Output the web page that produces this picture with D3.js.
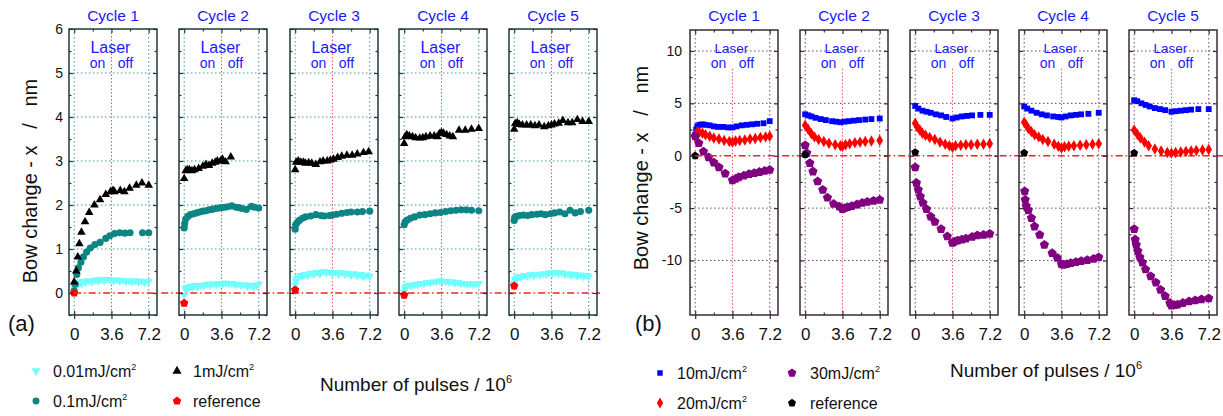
<!DOCTYPE html>
<html>
<head>
<meta charset="UTF-8">
<title>Bow change vs pulses</title>
<script src="https://d3js.org/d3.v7.min.js"></script>
<style>
  body { margin: 0; background: #fff; }
  svg { display: block; font-family: "Liberation Sans", Arial, sans-serif; }
  text { white-space: pre; }
</style>
</head>
<body>
<svg width="1223" height="416"></svg>
<script>
// ---- data (x in 10^6 pulses, y in nm), one array per cycle ----
const cycles = ["Cycle 1", "Cycle 2", "Cycle 3", "Cycle 4", "Cycle 5"];
const xTicks = [0, 3.6, 7.2];
const xTickLabels = ["0", "3.6", "7.2"];
const xMinor = [1.8, 5.4];
const yTicksA = [0, 1, 2, 3, 4, 5, 6];
const yTicksB = [-10, -5, 0, 5, 10];

// panel (a)
const a001 = [
  [[0,0.12],[0.1,0.18],[0.2,0.22],[0.35,0.2],[0.5,0.25],[0.7,0.22],[0.9,0.27],[1.1,0.24],[1.4,0.28],[1.7,0.25],[2.0,0.3],[2.3,0.27],[2.6,0.31],[2.9,0.28],[3.2,0.31],[3.5,0.3],[3.8,0.28],[4.1,0.3],[4.4,0.27],[4.7,0.29],[5.0,0.26],[5.3,0.28],[5.6,0.25],[5.9,0.28],[6.2,0.25],[6.5,0.27],[6.8,0.24],[7.2,0.27]],
  [[0,-0.05],[0.1,0.1],[0.25,0.13],[0.4,0.11],[0.6,0.15],[0.8,0.13],[1.0,0.17],[1.3,0.14],[1.6,0.18],[1.9,0.16],[2.2,0.2],[2.5,0.18],[2.8,0.21],[3.1,0.19],[3.4,0.22],[3.7,0.2],[4.0,0.23],[4.3,0.21],[4.6,0.22],[4.9,0.19],[5.2,0.2],[5.5,0.17],[5.8,0.19],[6.1,0.15],[6.4,0.18],[6.7,0.14],[7.0,0.17],[7.2,0.2]],
  [[0,0.18],[0.05,0.28],[0.15,0.33],[0.3,0.36],[0.5,0.4],[0.7,0.38],[0.9,0.43],[1.2,0.4],[1.5,0.45],[1.8,0.42],[2.1,0.47],[2.4,0.44],[2.7,0.49],[3.0,0.46],[3.3,0.48],[3.6,0.44],[3.9,0.47],[4.2,0.43],[4.5,0.46],[4.8,0.42],[5.1,0.45],[5.4,0.4],[5.7,0.44],[6.0,0.39],[6.3,0.42],[6.6,0.37],[6.9,0.41],[7.2,0.38]],
  [[0,0.02],[0.05,0.1],[0.15,0.14],[0.3,0.16],[0.5,0.18],[0.7,0.17],[1.0,0.2],[1.3,0.19],[1.6,0.22],[1.9,0.21],[2.2,0.24],[2.5,0.23],[2.8,0.26],[3.1,0.25],[3.4,0.28],[3.7,0.26],[4.0,0.27],[4.3,0.25],[4.6,0.26],[4.9,0.23],[5.2,0.24],[5.5,0.21],[5.8,0.22],[6.1,0.2],[6.4,0.21],[6.7,0.19],[7.0,0.21],[7.2,0.22]],
  [[0,0.22],[0.05,0.3],[0.15,0.33],[0.3,0.35],[0.5,0.38],[0.7,0.36],[1.0,0.4],[1.3,0.38],[1.6,0.42],[1.9,0.4],[2.2,0.43],[2.5,0.41],[2.8,0.44],[3.1,0.42],[3.4,0.46],[3.7,0.44],[4.0,0.47],[4.3,0.44],[4.6,0.46],[4.9,0.42],[5.2,0.44],[5.5,0.4],[5.8,0.43],[6.1,0.39],[6.4,0.41],[6.7,0.37],[7.0,0.4],[7.2,0.38]]
];
const a01 = [
  [[0,0.05],[0.1,0.2],[0.25,0.42],[0.4,0.57],[0.65,0.7],[0.9,0.82],[1.2,0.93],[1.55,1.02],[2.0,1.1],[2.5,1.15],[3.05,1.24],[3.45,1.3],[3.9,1.35],[4.4,1.37],[4.9,1.36],[5.4,1.37],[6.6,1.37],[7.2,1.37]],
  [[0,1.48],[0.05,1.58],[0.15,1.68],[0.35,1.74],[0.6,1.78],[0.9,1.8],[1.2,1.82],[1.5,1.84],[1.8,1.86],[2.1,1.87],[2.4,1.89],[2.7,1.9],[3.0,1.92],[3.3,1.93],[3.6,1.94],[3.9,1.95],[4.2,1.96],[4.6,1.98],[5.0,1.95],[5.3,1.94],[5.6,1.92],[6.0,1.9],[6.5,1.97],[6.8,1.95],[7.2,1.93]],
  [[0,1.45],[0.05,1.55],[0.2,1.6],[0.4,1.65],[0.7,1.7],[1.0,1.73],[1.5,1.75],[2.0,1.78],[2.5,1.76],[2.8,1.75],[3.3,1.76],[3.6,1.77],[4.0,1.79],[4.5,1.81],[5.0,1.83],[5.4,1.84],[6.0,1.84],[6.5,1.85],[7.2,1.86]],
  [[0,1.55],[0.1,1.62],[0.3,1.66],[0.6,1.7],[1.0,1.73],[1.5,1.77],[2.0,1.78],[2.5,1.8],[3.0,1.82],[3.5,1.83],[4.0,1.85],[4.5,1.87],[5.0,1.88],[5.5,1.89],[6.0,1.89],[6.5,1.88],[7.2,1.87]],
  [[0,1.65],[0.05,1.72],[0.2,1.74],[0.5,1.76],[0.9,1.77],[1.3,1.76],[1.7,1.78],[2.2,1.79],[2.6,1.8],[3.0,1.78],[3.5,1.8],[3.9,1.82],[4.4,1.84],[4.9,1.8],[5.4,1.88],[5.9,1.82],[6.4,1.85],[7.2,1.88]]
];
const a1 = [
  [[0,0.25],[0.2,0.5],[0.35,0.82],[0.5,1.12],[0.7,1.38],[1.05,1.62],[1.45,1.83],[1.95,2.0],[2.5,2.12],[3.05,2.24],[3.5,2.3],[3.75,2.33],[3.9,2.3],[4.45,2.33],[4.85,2.3],[5.35,2.38],[6.0,2.45],[6.55,2.5],[7.2,2.45]],
  [[0,2.6],[0.15,2.78],[0.3,2.8],[0.5,2.8],[0.75,2.78],[1.0,2.8],[1.4,2.83],[1.8,2.88],[2.1,2.92],[2.4,2.9],[2.7,2.95],[3.0,2.97],[3.2,3.0],[3.5,3.0],[3.7,3.04],[4.0,2.98],[4.5,3.09]],
  [[0,2.8],[0.1,2.97],[0.3,3.0],[0.55,2.97],[0.8,2.97],[1.0,2.95],[1.3,2.96],[1.6,2.95],[2.0,2.92],[2.4,2.98],[2.7,3.0],[3.1,3.0],[3.4,3.02],[3.7,3.04],[4.1,3.08],[4.5,3.11],[5.0,3.13],[5.5,3.13],[6.0,3.16],[6.6,3.19],[7.1,3.21]],
  [[0,3.4],[0.1,3.55],[0.25,3.6],[0.5,3.57],[0.8,3.55],[1.1,3.53],[1.5,3.52],[1.8,3.53],[2.1,3.55],[2.5,3.57],[2.9,3.57],[3.2,3.55],[3.4,3.62],[3.6,3.65],[3.8,3.63],[4.1,3.6],[4.4,3.57],[4.7,3.55],[5.3,3.7],[5.9,3.7],[6.5,3.72],[7.2,3.74]],
  [[0,3.72],[0.1,3.85],[0.3,3.87],[0.5,3.83],[0.8,3.82],[1.2,3.82],[1.6,3.82],[2.0,3.8],[2.4,3.82],[2.9,3.78],[3.3,3.8],[3.6,3.82],[3.9,3.84],[4.3,3.86],[4.7,3.92],[5.2,3.87],[5.6,3.87],[6.1,3.94],[6.6,3.9],[7.2,3.9]]
];
const aRef = [0.0, -0.23, 0.07, -0.05, 0.16];

// panel (b)
const b10 = [
  [[0,2.0],[0.1,2.5],[0.2,2.8],[0.4,2.95],[0.7,3.0],[1.0,2.95],[1.4,2.9],[1.8,2.8],[2.2,2.75],[2.7,2.75],[3.2,2.7],[3.6,2.7],[4.0,2.8],[4.5,2.9],[5.0,2.95],[5.5,3.0],[6.0,3.05],[6.6,3.1],[7.2,3.3]],
  [[0,3.95],[0.3,3.85],[0.6,3.75],[1.0,3.62],[1.5,3.5],[2.0,3.4],[2.6,3.3],[3.0,3.25],[3.4,3.2],[3.8,3.25],[4.2,3.3],[4.7,3.35],[5.2,3.4],[5.8,3.45],[6.4,3.5],[7.2,3.55]],
  [[0,4.75],[0.3,4.5],[0.7,4.3],[1.1,4.2],[1.5,4.1],[2.0,3.95],[2.5,3.85],[3.0,3.7],[3.6,3.55],[4.0,3.65],[4.5,3.75],[5.0,3.8],[5.5,3.85],[6.3,3.9],[7.2,3.9]],
  [[0,4.7],[0.3,4.5],[0.7,4.3],[1.2,4.1],[1.7,3.95],[2.2,3.85],[2.8,3.75],[3.3,3.7],[3.6,3.65],[4.0,3.75],[4.5,3.85],[5.0,3.9],[5.5,3.95],[6.2,4.0],[7.2,4.1]],
  [[0,5.3],[0.3,5.2],[0.7,5.0],[1.1,4.85],[1.5,4.7],[2.0,4.55],[2.5,4.45],[3.0,4.35],[3.6,4.2],[4.0,4.25],[4.5,4.3],[5.0,4.35],[5.5,4.4],[6.2,4.45],[7.2,4.45]]
];
const b20 = [
  [[0,1.8],[0.2,2.3],[0.4,2.25],[0.7,2.15],[1.0,2.0],[1.4,1.85],[1.8,1.7],[2.3,1.6],[2.8,1.45],[3.3,1.35],[3.6,1.3],[3.9,1.4],[4.3,1.45],[4.8,1.5],[5.3,1.6],[5.8,1.65],[6.3,1.75],[6.8,1.8],[7.2,1.85]],
  [[0,2.9],[0.3,2.5],[0.6,2.1],[0.9,1.8],[1.3,1.55],[1.8,1.35],[2.3,1.2],[2.9,1.05],[3.4,0.95],[3.6,0.9],[3.9,1.05],[4.3,1.15],[4.8,1.25],[5.3,1.3],[5.8,1.35],[6.4,1.4],[7.2,1.45]],
  [[0,3.1],[0.2,2.75],[0.45,2.45],[0.7,2.15],[1.0,1.95],[1.4,1.75],[1.9,1.55],[2.4,1.3],[2.9,1.1],[3.3,0.95],[3.6,0.8],[3.9,0.95],[4.4,1.0],[4.9,1.05],[5.4,1.05],[6.0,1.1],[6.6,1.1],[7.2,1.15]],
  [[0,3.2],[0.2,2.9],[0.4,2.6],[0.7,2.3],[1.0,2.0],[1.4,1.8],[1.8,1.55],[2.3,1.35],[2.9,1.1],[3.3,0.9],[3.6,0.75],[3.9,0.85],[4.3,0.9],[4.8,0.95],[5.4,1.0],[6.0,1.05],[6.6,1.1],[7.2,1.15]],
  [[0,2.45],[0.3,2.05],[0.6,1.7],[1.0,1.3],[1.4,0.95],[2.0,0.65],[2.6,0.45],[3.2,0.3],[3.6,0.25],[4.0,0.3],[4.5,0.35],[5.0,0.4],[5.5,0.45],[6.0,0.5],[6.6,0.55],[7.2,0.6]]
];
const b30 = [
  [[0,1.85],[0.35,1.2],[0.8,0.4],[1.3,-0.15],[1.8,-0.65],[2.3,-1.1],[2.9,-1.7],[3.6,-2.35],[3.9,-2.2],[4.2,-2.05],[4.7,-1.9],[5.2,-1.75],[5.7,-1.65],[6.2,-1.55],[6.7,-1.45],[7.2,-1.35]],
  [[0,1.0],[0.15,0.25],[0.45,-0.7],[0.75,-1.5],[1.2,-2.45],[1.7,-3.25],[2.15,-4.0],[2.75,-4.6],[3.3,-4.85],[3.6,-5.1],[3.8,-5.0],[4.1,-4.9],[4.5,-4.8],[5.0,-4.65],[5.5,-4.5],[6.0,-4.4],[6.6,-4.3],[7.2,-4.2]],
  [[0,-1.1],[0.12,-2.6],[0.3,-3.25],[0.5,-3.9],[0.75,-4.5],[1.1,-5.1],[1.5,-5.8],[1.9,-6.3],[2.5,-7.0],[3.1,-7.7],[3.6,-8.3],[3.8,-8.2],[4.1,-8.1],[4.5,-8.0],[4.9,-7.9],[5.5,-7.75],[6.0,-7.6],[6.6,-7.55],[7.2,-7.45]],
  [[0.05,-3.4],[0.1,-4.2],[0.2,-4.8],[0.4,-5.2],[0.7,-5.95],[1.0,-6.75],[1.5,-7.55],[1.95,-8.5],[2.7,-9.3],[3.2,-9.75],[3.6,-10.35],[3.8,-10.4],[4.1,-10.35],[4.5,-10.25],[5.0,-10.15],[5.5,-10.05],[6.1,-9.95],[6.7,-9.85],[7.2,-9.7]],
  [[0,-7.0],[0.1,-8.0],[0.2,-8.5],[0.35,-9.1],[0.55,-9.7],[0.8,-10.2],[1.1,-10.85],[1.6,-11.5],[2.1,-12.1],[2.55,-12.8],[3.0,-13.4],[3.45,-14.05],[3.6,-14.3],[3.9,-14.25],[4.2,-14.2],[4.7,-14.05],[5.3,-13.9],[5.9,-13.8],[6.5,-13.7],[7.2,-13.6]]
];
const bRef = [0.0, 0.1, 0.32, 0.26, 0.26];

// ---- drawing ----
const svg = d3.select("svg");
const blue = "#1a1aff";
const ink = "#111";

// regular pentagon symbol (size = area)
const symbolPentagon = {
  draw(ctx, size) {
    const r = Math.sqrt(size / 2.378);
    for (let i = 0; i < 5; i++) {
      const a = -Math.PI / 2 + i * 2 * Math.PI / 5;
      if (i === 0) ctx.moveTo(r * Math.cos(a), r * Math.sin(a));
      else ctx.lineTo(r * Math.cos(a), r * Math.sin(a));
    }
    ctx.closePath();
  }
};

function drawPanel(opt) {
  const top = opt.top, bottom = 315, w = 88;
  const y = d3.scaleLinear().domain(opt.yDomain).range([bottom, top]);

  opt.lefts.forEach((left, i) => {
    const x = d3.scaleLinear().domain([-0.5, 8]).range([left, left + w]);
    const g = svg.append("g");

    // grid
    g.selectAll(".hg").data(opt.grid).enter().append("line")
      .attr("x1", left).attr("x2", left + w)
      .attr("y1", d => y(d)).attr("y2", d => y(d))
      .attr("stroke", opt.gridColor).attr("stroke-width", 1)
      .attr("stroke-dasharray", "1.5,2.5");
    g.selectAll(".vg").data([0, 7.2]).enter().append("line")
      .attr("x1", d => x(d)).attr("x2", d => x(d))
      .attr("y1", top).attr("y2", bottom)
      .attr("stroke", opt.gridColor).attr("stroke-width", 1)
      .attr("stroke-dasharray", "1.5,2.5");
    g.append("line")
      .attr("x1", x(3.6)).attr("x2", x(3.6))
      .attr("y1", y(opt.redTop)).attr("y2", bottom)
      .attr("stroke", "#e85050").attr("stroke-width", 1)
      .attr("stroke-dasharray", "1.5,2");

    // cycle title + laser note
    svg.append("text").attr("x", left + w / 2).attr("y", 21)
      .attr("text-anchor", "middle").attr("fill", blue).attr("font-size", 15.5)
      .text(cycles[i]);
    g.append("text").attr("x", x(3.6) - 1).attr("y", 53)
      .attr("text-anchor", "middle").attr("fill", blue).attr("font-size", opt.laserSize)
      .text("Laser");
    g.append("text").attr("x", x(3.6) - 14).attr("y", 68)
      .attr("text-anchor", "middle").attr("fill", blue).attr("font-size", 14)
      .text("on");
    g.append("text").attr("x", x(3.6) + 14).attr("y", 68)
      .attr("text-anchor", "middle").attr("fill", blue).attr("font-size", 14)
      .text("off");

    opt.zeroLine(i, x, y);

    // series
    opt.series.forEach(s => {
      const sym = d3.symbol().type(s.type).size(s.size);
      g.selectAll(null).data(s.data[i]).enter().append("path")
        .attr("d", sym)
        .attr("transform", d => `translate(${x(d[0])},${y(d[1])})` + (s.flip ? " rotate(180)" : ""))
        .attr("fill", s.color);
    });
    g.append("path")
      .attr("d", d3.symbol().type(symbolPentagon).size(opt.refSize))
      .attr("transform", `translate(${x(0)},${y(opt.ref[i])})`)
      .attr("fill", opt.refColor);

    // frame
    g.append("rect").attr("x", left).attr("y", top).attr("width", w).attr("height", bottom - top)
      .attr("fill", "none").attr("stroke", opt.frameColor).attr("stroke-width", 1.5);

    // ticks: [axis, transform, label font size or 0]
    const xFmt = d => xTickLabels[xTicks.indexOf(d)];
    const axes = [
      [d3.axisLeft(y).tickValues(opt.yTicks).tickFormat(d => String(d)).tickSizeInner(-4).tickSizeOuter(0).tickPadding(opt.yPad), `translate(${left},0)`, i === 0 ? 14 : 0],
      [d3.axisLeft(y).tickValues(opt.yMinor).tickSizeInner(-2.5).tickSizeOuter(0), `translate(${left},0)`, 0],
      [d3.axisRight(y).tickValues(opt.yTicks).tickSizeInner(-4).tickSizeOuter(0), `translate(${left + w},0)`, 0],
      [d3.axisRight(y).tickValues(opt.yMinor).tickSizeInner(-2.5).tickSizeOuter(0), `translate(${left + w},0)`, 0],
      [d3.axisBottom(x).tickValues(xTicks).tickFormat(xFmt).tickSizeInner(4).tickSizeOuter(0).tickPadding(9), `translate(0,${bottom})`, 17],
      [d3.axisBottom(x).tickValues(xTicks).tickSizeInner(-4).tickSizeOuter(0), `translate(0,${bottom})`, 0],
      [d3.axisBottom(x).tickValues(xMinor).tickSizeInner(-2.5).tickSizeOuter(0), `translate(0,${bottom})`, 0],
      [d3.axisTop(x).tickValues(xTicks).tickSizeInner(-4).tickSizeOuter(0), `translate(0,${top})`, 0],
      [d3.axisTop(x).tickValues(xMinor).tickSizeInner(-2.5).tickSizeOuter(0), `translate(0,${top})`, 0]
    ];
    axes.forEach(([ax, tr, fs]) => {
      const a = g.append("g").attr("transform", tr).call(ax);
      a.select(".domain").remove();
      a.selectAll("line").attr("stroke", opt.frameColor).attr("stroke-width", 1.2);
      if (!fs) a.selectAll("text").remove();
      else a.selectAll("text").attr("fill", ink)
        .attr("font-family", "Liberation Sans, Arial, sans-serif").attr("font-size", fs);
    });
  });
}

function zeroLine(x1) {
  return (i, x, y) => {
    if (i !== 0) return;
    svg.append("line").attr("x1", x(0)).attr("x2", x1)
      .attr("y1", y(0)).attr("y2", y(0))
      .attr("stroke", "#ff2020").attr("stroke-width", 1.3)
      .attr("stroke-dasharray", "7,3,1.5,3");
  };
}

drawPanel({
  lefts: [69, 179, 290, 399, 509], top: 29, yDomain: [-0.5, 6],
  yTicks: yTicksA, yMinor: [-0.5, 0.5, 1.5, 2.5, 3.5, 4.5, 5.5], yPad: 6,
  grid: [1, 2, 3, 4, 5], gridColor: "#3f9a9a", frameColor: "#203838",
  redTop: 6, laserSize: 16, zeroLine: zeroLine(600),
  series: [
    { data: a001, type: d3.symbolTriangle, size: 30, color: "#70ffff", flip: true },
    { data: a01, type: d3.symbolCircle, size: 40, color: "#0e8585" },
    { data: a1, type: d3.symbolTriangle, size: 32, color: "#000" }
  ],
  ref: aRef, refColor: "#ff0000", refSize: 46
});

drawPanel({
  lefts: [690, 800, 910, 1019, 1129], top: 30, yDomain: [-15.2, 12],
  yTicks: yTicksB, yMinor: [-12.5, -7.5, -2.5, 2.5, 7.5], yPad: 8,
  grid: [-10, -5, 5, 10], gridColor: "#6a4a6a", frameColor: "#3a2a3a",
  redTop: 8.3, laserSize: 13.5, zeroLine: zeroLine(1223),
  series: [
    { data: b10, type: d3.symbolSquare, size: 34, color: "#0000ff" },
    { data: b20, type: d3.symbolDiamond, size: 38, color: "#ff0000" },
    { data: b30, type: symbolPentagon, size: 56, color: "#800080" }
  ],
  ref: bRef, refColor: "#000", refSize: 42
});

// axis titles and panel labels
function yTitle(cx, cy) {
  svg.append("text").attr("transform", `translate(${cx},${cy}) rotate(-90)`)
    .attr("text-anchor", "middle").attr("dominant-baseline", "central")
    .attr("font-size", 20).attr("fill", ink)
    .text("Bow change - x   /   nm");
}
yTitle(30, 181);
yTitle(641, 168);

svg.append("text").attr("x", 8).attr("y", 331).attr("font-size", 22).attr("fill", ink).text("(a)");
svg.append("text").attr("x", 635).attr("y", 331).attr("font-size", 22).attr("fill", ink).text("(b)");

function xTitle(x0, yb) {
  const t = svg.append("text").attr("x", x0).attr("y", yb).attr("font-size", 19).attr("fill", ink);
  t.append("tspan").text("Number of pulses / 10");
  t.append("tspan").attr("dy", -8).attr("font-size", 11).text("6");
}
xTitle(320, 391);
xTitle(950, 377);

// legends
function legend(items) {
  items.forEach(it => {
    svg.append("path")
      .attr("d", d3.symbol().type(it.type).size(it.size))
      .attr("transform", `translate(${it.mx},${it.my})` + (it.flip ? " rotate(180)" : ""))
      .attr("fill", it.color);
    const t = svg.append("text").attr("x", it.tx).attr("y", it.my + 6)
      .attr("font-size", 16).attr("fill", ink);
    t.append("tspan").text(it.label);
    if (it.sup) t.append("tspan").attr("dy", -7).attr("font-size", 9).text("2");
  });
}
legend([
  { type: d3.symbolTriangle, size: 36, color: "#70ffff", flip: true, mx: 36, my: 371, tx: 53, label: "0.01mJ/cm", sup: true },
  { type: d3.symbolCircle, size: 38, color: "#0e8585", mx: 36, my: 401, tx: 53, label: "0.1mJ/cm", sup: true },
  { type: d3.symbolTriangle, size: 36, color: "#000", mx: 177, my: 371, tx: 193, label: "1mJ/cm", sup: true },
  { type: symbolPentagon, size: 46, color: "#ff0000", mx: 177, my: 401, tx: 193, label: "reference" },
  { type: d3.symbolSquare, size: 30, color: "#0000ff", mx: 660, my: 373, tx: 677, label: "10mJ/cm", sup: true },
  { type: d3.symbolDiamond, size: 34, color: "#ff0000", mx: 660, my: 403, tx: 677, label: "20mJ/cm", sup: true },
  { type: symbolPentagon, size: 50, color: "#800080", mx: 792, my: 373, tx: 810, label: "30mJ/cm", sup: true },
  { type: symbolPentagon, size: 42, color: "#000", mx: 792, my: 403, tx: 810, label: "reference" }
]);
</script>
</body>
</html>
